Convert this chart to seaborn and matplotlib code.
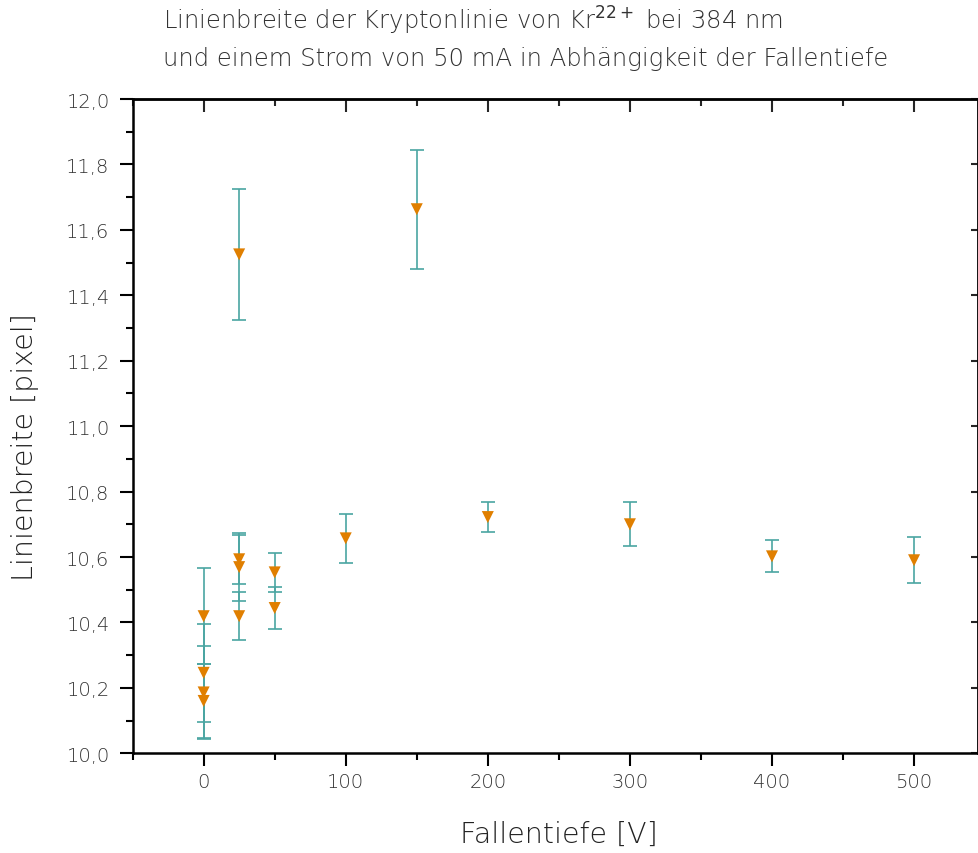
import matplotlib
matplotlib.use("Agg")
import matplotlib.pyplot as plt
import seaborn as sns
import pandas as pd
from matplotlib.ticker import MultipleLocator, FuncFormatter
from matplotlib.font_manager import FontProperties

# ---- data ----
fallentiefe = [0, 0, 0, 0, 25, 25, 25, 25, 50, 50, 100, 150, 200, 300, 400, 500]
linienbreite = [10.419, 10.246, 10.186, 10.160, 11.525, 10.593, 10.569, 10.419,
                10.553, 10.444, 10.657, 11.663, 10.722, 10.700, 10.602, 10.590]
fehler = [0.147, 0.150, 0.142, 0.112, 0.200, 0.074, 0.103, 0.073,
          0.060, 0.065, 0.075, 0.182, 0.047, 0.067, 0.049, 0.070]
x_ticks = [0, 100, 200, 300, 400, 500]
y_ticks = [10.0, 10.2, 10.4, 10.6, 10.8, 11.0, 11.2, 11.4, 11.6, 11.8, 12.0]
title_lines = [r"Linienbreite der Kryptonlinie von Kr$^{22+}$ bei 384 nm",
               "und einem Strom von 50 mA in Abhängigkeit der Fallentiefe"]
x_label = "Fallentiefe [V]"
y_label = "Linienbreite [pixel]"

df = pd.DataFrame({"x": fallentiefe, "y": linienbreite, "err": fehler})

sns.set_style("white")
plt.rcParams["font.family"] = ["DejaVu Sans"]

W, H = 979, 854
fig = plt.figure(figsize=(W / 100, H / 100), dpi=100)
left, right = 132.6 / W, 978.0 / W
bottom, top = 1 - 754.3 / H, 1 - 100.0 / H
ax = fig.add_axes([left, bottom, right - left, top - bottom])

err_color = "#4aa5a2"
mark_color = "#e07f00"

ax.errorbar(df["x"], df["y"], yerr=df["err"], fmt="none", ecolor=err_color,
            elinewidth=1.2, capsize=4.7, capthick=1.2, zorder=2)
sns.scatterplot(data=df, x="x", y="y", marker="v", s=75, color=mark_color,
                edgecolor="none", linewidth=0, ax=ax, zorder=3)

ax.set_xlim(-50, 545)
ax.set_ylim(10.0, 12.0)
ax.set_xlabel("")
ax.set_ylabel("")

fmt = FuncFormatter(lambda v, p: f"{v:.1f}".replace(".", ","))
ax.set_xticks(x_ticks)
ax.xaxis.set_minor_locator(MultipleLocator(50))
ax.set_yticks(y_ticks)
ax.yaxis.set_major_formatter(fmt)
ax.yaxis.set_minor_locator(MultipleLocator(0.1))
tick_fp = FontProperties(family="DejaVu Sans", size=14, weight="light")
for lab in ax.get_xticklabels() + ax.get_yticklabels():
    lab.set_fontproperties(tick_fp)
    lab.set_color("#333333")

for s in ax.spines.values():
    s.set_linewidth(1.8)
    s.set_color("black")

ax.tick_params(axis="both", which="major", direction="out", length=9.5, width=1.5,
               color="black", bottom=True, left=True, top=False, right=False)
ax.tick_params(axis="both", which="minor", direction="out", length=5, width=1.5,
               color="black", bottom=True, left=True, top=False, right=False)
ax.tick_params(axis="x", which="major", pad=4)
ax.tick_params(axis="y", which="major", pad=7)

# inward ticks on top and right
secx = ax.secondary_xaxis("top")
secx.set_xticks(x_ticks)
secx.xaxis.set_minor_locator(MultipleLocator(50))
secx.tick_params(axis="x", which="major", direction="in", length=9.5, width=1.5,
                 top=True, labeltop=False)
secx.tick_params(axis="x", which="minor", direction="in", length=5, width=1.5, top=True)
secx.spines["top"].set_linewidth(1.8)
secy = ax.secondary_yaxis("right")
secy.set_yticks(y_ticks)
secy.yaxis.set_minor_locator(MultipleLocator(0.1))
secy.tick_params(axis="y", which="major", direction="in", length=5, width=1.5,
                 right=True, labelright=False)
secy.tick_params(axis="y", which="minor", direction="in", length=0, width=0)
secy.spines["right"].set_linewidth(1.8)

title_font = dict(family="DejaVu Sans", size=17.5, color="#333333", weight="light")
fig.text(163 / W, 1 - 30 / H, title_lines[0], ha="left", va="baseline", **title_font)
fig.text(163 / W, 1 - 66 / H, title_lines[1], ha="left", va="baseline", **title_font)

label_font = dict(family="DejaVu Sans", size=20.5, color="#222222", weight="light")
fig.text(559 / W, 1 - 835 / H, x_label, ha="center", va="center", **label_font)
fig.text(25 / W, 1 - 447 / H, y_label, ha="center", va="center", rotation=90, **label_font)

fig.savefig("out.png", dpi=100)
